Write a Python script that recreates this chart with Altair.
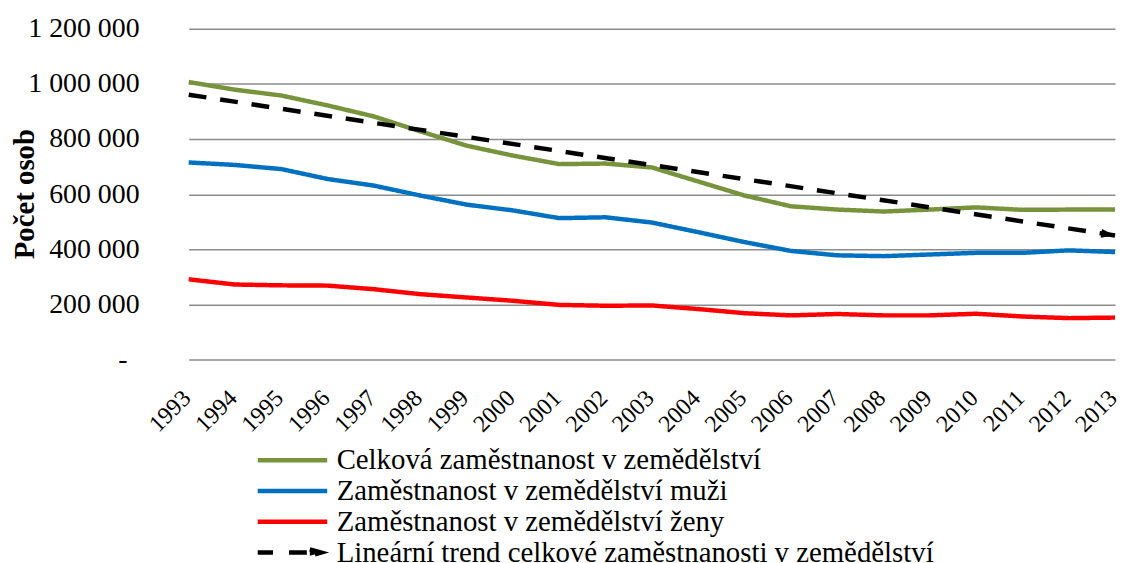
import altair as alt
import pandas as pd

years = [1993, 1994, 1995, 1996, 1997, 1998, 1999, 2000, 2001, 2002, 2003,
         2004, 2005, 2006, 2007, 2008, 2009, 2010, 2011, 2012, 2013]
total = [1007000, 979000, 958000, 922000, 882000, 828000, 776000, 740000, 709000, 711000, 697000,
         646000, 595000, 556000, 544000, 537000, 544000, 552000, 543000, 544000, 544000]
men = [715000, 706000, 691000, 655000, 631000, 595000, 562000, 541000, 513000, 516000, 497000,
       462000, 426000, 394000, 378000, 375000, 381000, 387000, 387000, 396000, 390000]
women = [291000, 272000, 269000, 268000, 255000, 237000, 225000, 213000, 198000, 195000, 196000,
         183000, 168000, 160000, 165000, 160000, 160000, 166000, 156000, 150000, 152000]
trend_years = [1993, 2013]
trend_values = [961000, 450000]

names = [
    "Celková zaměstnanost v zemědělství",
    "Zaměstnanost v zemědělství muži",
    "Zaměstnanost v zemědělství ženy",
    "Lineární trend celkové zaměstnanosti v zemědělství",
]
colors = ["#77933C", "#0070C0", "#FF0000", "#000000"]
y_ticks = [0, 200000, 400000, 600000, 800000, 1000000, 1200000]

rows = []
for name, vals in zip(names[:3], [total, men, women]):
    for yr, v in zip(years, vals):
        rows.append({"rok": yr, "pocet": v, "serie": name})
for yr, v in zip(trend_years, trend_values):
    rows.append({"rok": yr, "pocet": v, "serie": names[3]})
df = pd.DataFrame(rows)
df_arrow = pd.DataFrame({"rok": [trend_years[-1]], "pocet": [trend_values[-1]]})

FONT = "Liberation Serif"
trend_name = names[3]
legend_arrow_path = "M -1 0 L -0.56 0 M -0.1 0 L 0.45 0 M 0.5 -0.09 L 0.82 0 L 0.5 0.09 Z"
is_trend = f"datum.value === '{trend_name}'"

legend = alt.Legend(
    title=None, orient="none", legendX=67, legendY=419, direction="vertical",
    symbolType={"expr": f"{is_trend} ? '{legend_arrow_path}' : 'stroke'"},
    symbolFillColor={"expr": f"{is_trend} ? 'black' : 'transparent'"},
    symbolSize=4900, symbolStrokeWidth=4.5, clipHeight=31,
    labelFont=FONT, labelFontSize=29, labelColor="black", labelOffset=7,
    rowPadding=-1.7, padding=0, labelLimit=0,
)

label_expr = ("datum.value == 0 ? '-' : "
              "replace(replace(format(datum.value, ','), ',', ' '), ',', ' ')")

x_enc = alt.X("rok:Q", scale=alt.Scale(domain=[1993, 2013], nice=False, zero=False),
              axis=alt.Axis(values=years, format="d", labelAngle=-45, labelAlign="right",
                            labelBaseline="middle", labelFont=FONT, labelFontSize=24,
                            labelColor="black", labelPadding=35, labelOffset=-2,
                            labelFlush=False, labelOverlap=False, ticks=False,
                            domain=False, grid=False, title=None))
y_enc = alt.Y("pocet:Q", scale=alt.Scale(domain=[0, 1200000], nice=False),
              axis=alt.Axis(values=y_ticks, labelExpr=label_expr, labelFont=FONT,
                            labelFontSize=28, labelColor="black",
                            labelPadding={"condition": {"test": "datum.value === 0", "value": 62},
                                          "value": 50},
                            ticks=False, domain=False, grid=True, gridColor="#8c8c8c",
                            gridWidth=1.5, title="Počet osob", titleFont=FONT,
                            titleFontSize=29, titleFontWeight="bold", titleColor="black",
                            titleAngle=-90, titleX=-165, titleY=166, titleAlign="center",
                            titleBaseline="middle"))

lines = alt.Chart(df).mark_line(strokeWidth=4.5, strokeJoin="round").encode(
    x=x_enc,
    y=y_enc,
    color=alt.Color("serie:N", scale=alt.Scale(domain=names, range=colors), legend=legend),
    strokeDash=alt.StrokeDash("serie:N", scale=alt.Scale(domain=names,
                              range=[[1, 0], [1, 0], [1, 0], [18, 14]]), legend=None),
)

arrow = alt.Chart(df_arrow).mark_point(
    shape="M -2 -0.65 L 0 0 L -2 0.65 Z", size=196, filled=True, color="black",
    opacity=1, angle=8.6, strokeWidth=0,
).encode(x="rok:Q", y="pocet:Q")

chart = alt.layer(lines, arrow).properties(
    width=933, height=333,
    autosize=alt.AutoSizeParams(type="none"),
    padding={"left": 182, "top": 19, "right": 6, "bottom": 203},
    background="white",
).configure_view(strokeWidth=0)

chart.save("out.html", embed_options={"renderer": "svg", "actions": False})
